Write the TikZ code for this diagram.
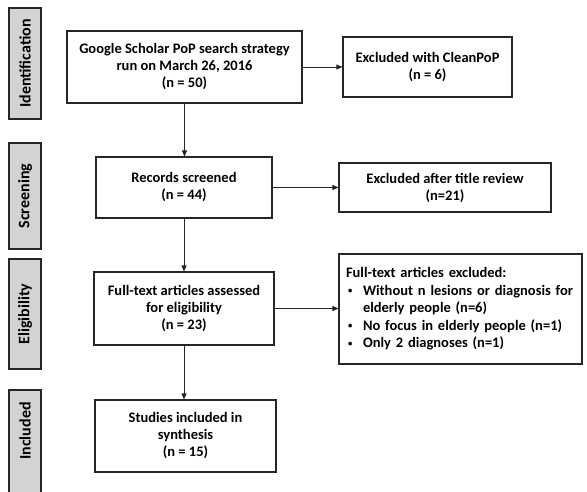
\documentclass[tikz,border=0pt]{standalone}
\usepackage{fontspec}
\setmainfont{Carlito}
\usetikzlibrary{arrows.meta}
\definecolor{sidegray}{HTML}{D3D3D3}
\definecolor{edge}{HTML}{262626}
\newcommand{\bul}{\makebox[17pt][l]{\hspace{2pt}\raisebox{1.5pt}{\scalebox{0.6}{•}}}}
\begin{document}
\begin{tikzpicture}[x=1pt,y=-1pt,
  box/.style={draw=edge,line width=1.1pt,fill=white,inner sep=0pt,align=center,
    font=\bfseries\fontsize{14.5}{17}\selectfont},
  side/.style={draw=edge,line width=1.1pt,fill=sidegray,inner sep=0pt,
    minimum width=32pt},
  sidetext/.style={rotate=90,font=\bfseries\fontsize{16}{19}\selectfont},
  arr/.style={draw=edge,line width=0.6pt,-{Triangle[length=6pt,width=5pt]}}]
\useasboundingbox (0,0) rectangle (587,491);
% side labels
\node[side,minimum height=111pt] (s1) at (25,63.5) {};
\node[sidetext] (t1) at (s1.center) {Identification};
\node[side,minimum height=106pt] (s2) at (25,196) {};
\node[sidetext] (t2) at (s2.center) {Screening};
\node[side,minimum height=110pt] (s3) at (25,314) {};
\node[sidetext] (t3) at (s3.center) {Eligibility};
\node[side,minimum height=110pt] (s4) at (25,445) {};
\node[sidetext] (t4) at (25,431) {Included};
% boxes
\node[box,minimum width=235pt,minimum height=72pt] (b1) at (184.5,67)
  {Google Scholar PoP search strategy\\run on March 26, 2016\\(n = 50)};
\node[box,minimum width=169pt,minimum height=60pt] (b2) at (427.5,67)
  {Excluded with CleanPoP\\(n = 6)};
\node[box,minimum width=176pt,minimum height=61pt] (b3) at (184,187.5)
  {Records screened\\(n = 44)};
\node[box,minimum width=212pt,minimum height=49pt] (b4) at (445,187.5)
  {Excluded after title review\\(n=21)};
\node[box,minimum width=180pt,minimum height=73pt] (b5) at (184,308.5)
  {Full-text articles assessed\\for eligibility\\(n = 23)};
\node[box,minimum width=243pt,minimum height=110pt,align=left,text width=229pt,
  font=\bfseries\fontsize{14.5}{17.5}\selectfont] (b6) at (460.5,309)
  {Full-text articles excluded:\par
   \hangindent=17pt\hangafter=1\bul Without n lesions or diagnosis for elderly people (n=6)\par
   \bul No focus in elderly people (n=1)\par
   \bul Only 2 diagnoses (n=1)};
\node[box,minimum width=181pt,minimum height=72pt] (b7) at (185.5,436)
  {Studies included in\\synthesis\\(n = 15)};
% connectors
\draw[arr] (b1.south) -- (b1.south |- b3.north);
\draw[arr] (b3.south) -- (b3.south |- b5.north);
\draw[arr] (b5.south) -- (b5.south |- b7.north);
\draw[arr] (b1.east) -- (b1.east -| b2.west);
\draw[arr] (b3.east) -- (b3.east -| b4.west);
\draw[arr] (b5.east) -- (b5.east -| b6.west);
\end{tikzpicture}
\end{document}
